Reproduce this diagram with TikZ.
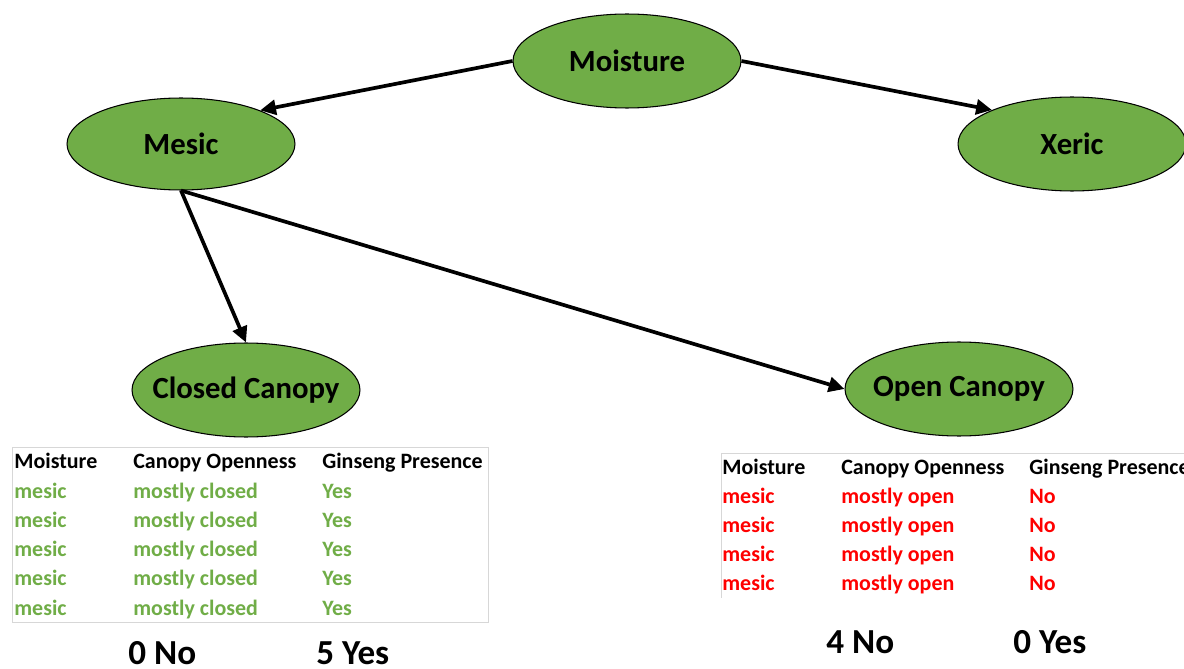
\documentclass[tikz,border=0pt]{standalone}
\usepackage{fontspec}
\setmainfont{Carlito}
\usetikzlibrary{arrows.meta,shapes.geometric}
\definecolor{leaf}{RGB}{112,173,71}
\definecolor{nored}{RGB}{255,0,0}
\definecolor{rulegray}{RGB}{215,215,215}
\begin{document}
\begin{tikzpicture}[x=0.02cm,y=-0.02cm,
  var/.style={ellipse,draw=black,line width=0.6pt,fill=leaf,minimum width=4.56cm,minimum height=1.88cm,inner sep=0pt,font=\fontsize{17.5}{21}\selectfont\bfseries},
  link/.style={line width=2.1pt,-{Triangle[length=9pt,width=8.5pt]}},
  cell/.style={anchor=base west,inner sep=0pt,font=\fontsize{12.5}{15}\selectfont\bfseries},
  tally/.style={anchor=base west,inner sep=0pt,font=\fontsize{20}{24}\selectfont\bfseries}]
\useasboundingbox (0,0) rectangle (1184,669);
% variables
\node[var] (moist) at (627,61) {\makebox[0pt]{Moisture}};
\node[var,minimum height=1.84cm] (mesic) at (181,144) {\makebox[0pt]{Mesic}};
\node[var] (xeric) at (1072,144) {\makebox[0pt]{Xeric}};
\node[var] (closed) at (246,390) {\makebox[0pt]{Closed Canopy}};
\node[var] (open) at (959,389) {\makebox[0pt]{Open Canopy}};
% links
\draw[link] (moist.west) -- (mesic.23);
\draw[link] (moist.east) -- (xeric.157);
\draw[link] (mesic.south) -- (closed.north);
\draw[link] (mesic.south) -- (open.west);
% closed canopy table
\draw[rulegray,line width=0.5pt] (12,447) rectangle (488,622);
\node[cell] (lh1) at (14,468) {Moisture};
\node[cell] (lh2) at (133,468) {Canopy Openness};
\node[cell] (lh3) at (322,468) {Ginseng Presence};
\foreach \r in {1,...,5}{
  \node[cell,text=leaf] (lm\r) at (14,{498.3+29.2*(\r-1)}) {mesic};
  \node[cell,text=leaf] (lc\r) at (133,{498.3+29.2*(\r-1)}) {mostly closed};
  \node[cell,text=leaf] (lg\r) at (322,{498.3+29.2*(\r-1)}) {Yes};
}
\node[tally] (lno) at (128,664) {0 No};
\node[tally] (lyes) at (316,664) {5 Yes};
% open canopy table
\draw[rulegray,line width=0.5pt] (1184,453) -- (721,453) -- (721,598);
\node[cell] (rh1) at (722,474) {Moisture};
\node[cell] (rh2) at (841,474) {Canopy Openness};
\node[cell] (rh3) at (1029,474) {Ginseng Presence};
\foreach \r in {1,...,4}{
  \node[cell,text=nored] (rm\r) at (722,{503.4+29.1*(\r-1)}) {mesic};
  \node[cell,text=nored] (rc\r) at (841,{503.4+29.1*(\r-1)}) {mostly open};
  \node[cell,text=nored] (rg\r) at (1029,{503.4+29.1*(\r-1)}) {No};
}
\node[tally] (rno) at (826,653) {4 No};
\node[tally] (ryes) at (1013,653) {0 Yes};
\end{tikzpicture}
\end{document}
